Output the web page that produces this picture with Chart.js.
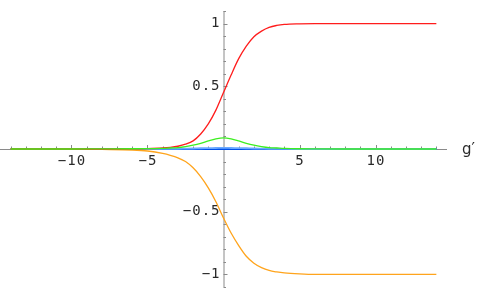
<!DOCTYPE html>
<html lang="en">
<head>
<meta charset="UTF-8">
<script src="https://cdn.jsdelivr.net/npm/chart.js"></script>
<style>
  body { margin: 0; background: #fff; }
  canvas { display: block; }
</style>
</head>
<body>
<canvas id="myChart" width="485" height="299"></canvas>
<script>
// values
const xs     = [-14, -10, -8, -6, -5, -4, -3.5, -3, -2.5, -2, -1.5, -1, -0.5, 0, 0.5, 1, 1.5, 2, 2.5, 3, 3.5, 4, 5, 6, 8, 10, 14]
const red    = [0, 0, 0, 0.001, 0.003, 0.008, 0.013, 0.022, 0.038, 0.065, 0.12, 0.2, 0.31, 0.45, 0.59, 0.72, 0.82, 0.895, 0.94, 0.97, 0.985, 0.993, 0.998, 1, 1, 1, 1]
const orange = [0, 0, -0.003, -0.008, -0.016, -0.035, -0.05, -0.07, -0.1, -0.15, -0.22, -0.31, -0.42, -0.55, -0.67, -0.77, -0.855, -0.91, -0.945, -0.968, -0.98, -0.988, -0.996, -1, -1, -1, -1]
const green  = [0, 0, 0.001, 0.002, 0.003, 0.005, 0.008, 0.011, 0.019, 0.03, 0.045, 0.064, 0.08, 0.088, 0.08, 0.064, 0.045, 0.03, 0.019, 0.011, 0.008, 0.005, 0.002, 0.001, 0, 0, 0]
const ltBlue = [0, 0, 0, 0, 0, 0.001, 0.002, 0.002, 0.003, 0.004, 0.006, 0.007, 0.008, 0.009, 0.008, 0.007, 0.006, 0.004, 0.003, 0.002, 0.002, 0.001, 0, 0, 0, 0, 0]
const blue   = [0, 0, 0, 0, 0, 0, 0, 0, 0, 0, 0, 0, 0, 0, 0, 0, 0, 0, 0, 0, 0, 0, 0, 0, 0, 0, 0]

const xTicks = [-10, -5, 5, 10]
const yTicks = [-1, -0.5, 0.5, 1]
const xLabels = ['\u221210', '\u22125', '5', '10']
const yLabels = ['\u22121', '\u22120.5', '0.5', '1']
const axisName = 'g\u2032'

function pts(ys) {
  return xs.map((x, i) => ({ x: x, y: ys[i] }))
}

// axes drawn Mathematica style, crossing at the origin
const axesPlugin = {
  id: 'axes',
  beforeDatasetsDraw(chart) {
    const ctx = chart.ctx
    const xs_ = chart.scales.x
    const ys_ = chart.scales.y
    const x0 = xs_.getPixelForValue(0)
    const y0 = ys_.getPixelForValue(0)
    ctx.save()
    ctx.strokeStyle = '#8a8a8a'
    ctx.lineWidth = 1
    ctx.beginPath()
    ctx.moveTo(xs_.left, y0 + 0.5)
    ctx.lineTo(xs_.right, y0 + 0.5)
    ctx.moveTo(x0 + 0.5, ys_.top)
    ctx.lineTo(x0 + 0.5, ys_.bottom)
    // minor ticks
    for (let v = -14; v <= 14; v++) {
      if (v === 0) continue
      const p = Math.round(xs_.getPixelForValue(v)) + 0.5
      const len = v % 5 === 0 ? 4 : 2.5
      ctx.moveTo(p, y0)
      ctx.lineTo(p, y0 - len)
    }
    for (let k = -11; k <= 11; k++) {
      if (k === 0) continue
      const p = Math.round(ys_.getPixelForValue(k / 10)) + 0.5
      const len = k % 5 === 0 ? 4 : 2.5
      ctx.moveTo(x0, p)
      ctx.lineTo(x0 + len, p)
    }
    ctx.stroke()

    ctx.fillStyle = '#2a2a2a'
    ctx.font = '14px "DejaVu Sans Mono", monospace'
    ctx.letterSpacing = '1px'
    ctx.textAlign = 'center'
    ctx.textBaseline = 'middle'
    xTicks.forEach((v, i) => {
      ctx.fillText(xLabels[i], xs_.getPixelForValue(v) + 0.5, y0 + 12)
    })
    ctx.textAlign = 'right'
    yTicks.forEach((v, i) => {
      ctx.fillText(yLabels[i], x0 - 3, ys_.getPixelForValue(v))
    })
    ctx.letterSpacing = '0px'
    ctx.textAlign = 'left'
    ctx.font = '15px "DejaVu Sans", sans-serif'
    ctx.fillText(axisName, xs_.right + 15, y0 + 1)
    ctx.restore()
  }
}

const ctx = document.getElementById('myChart')
new Chart(ctx, {
  type: 'line',
  data: {
    // first dataset is painted on top
    datasets: [
      { data: pts(green), borderColor: '#3cee20' },
      { data: pts(red), borderColor: '#ff1c1c' },
      { data: pts(orange), borderColor: '#ffa41c' },
      { data: pts(ltBlue), borderColor: '#6aa8ff', borderWidth: 1.8 },
      { data: pts(blue), borderColor: '#0050e8', borderWidth: 2.2 }
    ]
  },
  options: {
    responsive: false,
    animation: false,
    layout: { padding: { left: 0, right: 38, top: 11, bottom: 12 } },
    elements: {
      point: { radius: 0 },
      line: { borderWidth: 1.3, cubicInterpolationMode: 'monotone' }
    },
    plugins: { legend: { display: false }, tooltip: { enabled: false } },
    scales: {
      x: { type: 'linear', min: -14.7, max: 14.7, display: false },
      y: { min: -1.1, max: 1.1, display: false }
    }
  },
  plugins: [axesPlugin]
})
</script>
</body>
</html>
